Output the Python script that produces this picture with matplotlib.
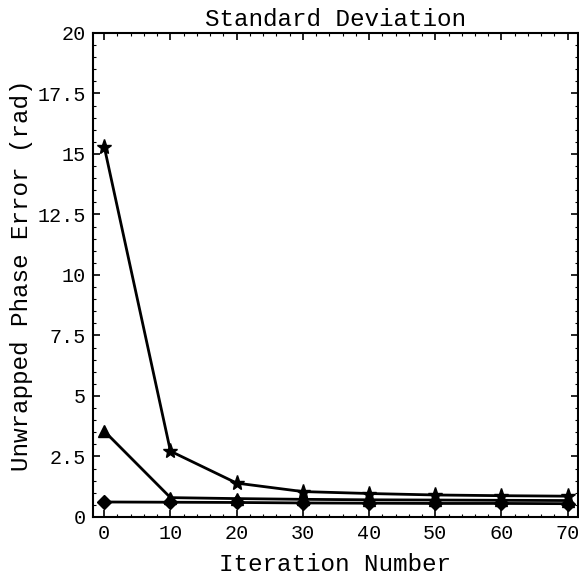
import numpy as np
import matplotlib
matplotlib.use('Agg')
import matplotlib.pyplot as plt
from matplotlib.ticker import MultipleLocator

iterations = [0, 10, 20, 30, 40, 50, 60, 70]
std_star = [15.3, 2.72, 1.40, 1.05, 0.97, 0.91, 0.88, 0.86]
std_triangle = [3.55, 0.80, 0.76, 0.73, 0.71, 0.70, 0.69, 0.68]
std_diamond = [0.62, 0.61, 0.60, 0.58, 0.57, 0.56, 0.56, 0.55]

plt.rcParams['font.family'] = ['Liberation Mono', 'DejaVu Sans Mono']

fig = plt.figure(figsize=(5.79, 5.82), dpi=100)
ax = fig.add_axes([0.1606, 0.1117, 0.837, 0.8316])

ax.plot(iterations, std_star, color='black', lw=2, marker='*', ms=11, zorder=3)
ax.plot(iterations, std_triangle, color='black', lw=2, marker='^', ms=8, zorder=3)
ax.plot(iterations, std_diamond, color='black', lw=2, marker='D', ms=7, zorder=3)

ax.set_xlim(-1.7, 71.5)
ax.set_ylim(0, 20)
ax.xaxis.set_major_locator(MultipleLocator(10))
ax.xaxis.set_minor_locator(MultipleLocator(2))
ax.yaxis.set_minor_locator(MultipleLocator(0.5))
ax.set_yticks([0, 2.5, 5, 7.5, 10, 12.5, 15, 17.5, 20])
ax.set_yticklabels(['0', '2.5', '5', '7.5', '10', '12.5', '15', '17.5', '20'])
ax.tick_params(which='both', direction='in', top=True, right=True, labelsize=14.5, pad=5)
ax.tick_params(which='major', length=5, width=1.2)
ax.tick_params(which='minor', length=2.5, width=0.8)
for spine in ax.spines.values():
    spine.set_linewidth(1.5)

ax.set_title('Standard Deviation', fontsize=17.5, pad=5)
ax.set_xlabel('Iteration Number', fontsize=17.5, labelpad=7)
ax.set_ylabel('Unwrapped Phase Error (rad)', fontsize=17.5, labelpad=3)

fig.savefig('out.png', dpi=100, facecolor='white')
